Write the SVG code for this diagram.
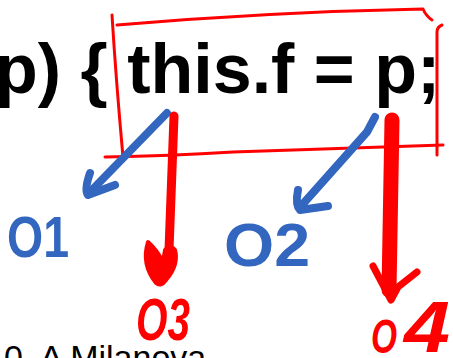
<svg xmlns="http://www.w3.org/2000/svg" width="453" height="358" viewBox="0 0 453 358">
<style>
.code{font-family:"Liberation Sans",Arial,sans-serif;font-weight:bold;font-size:70px;fill:#000}
.foot{font-family:"Liberation Sans",Arial,sans-serif;font-size:34px;fill:#000}
.box{fill:none;stroke:#ff0000;stroke-width:3;stroke-linecap:round;stroke-linejoin:round}
.blue{fill:none;stroke:#3366bf;stroke-width:8;stroke-linecap:round;stroke-linejoin:round}
.red{fill:none;stroke:#ff0000;stroke-linecap:round;stroke-linejoin:round}
.lb{font-family:"Liberation Sans",Arial,sans-serif;font-weight:bold;fill:#3366bf}
.lr{font-family:"Liberation Sans",Arial,sans-serif;font-weight:bold;font-style:italic;fill:#ff0000}
</style>
<rect width="453" height="358" fill="#fff"/>
<g id="code"><text class="code" x="-5" y="93">p) { this.f = p;</text></g>
<g id="footer"><text class="foot" x="4" y="369">0, A Milanova</text></g>
<g id="box">
<path class="box" d="M112,15 Q116,80 123,157"/>
<path class="box" d="M117,25 Q270,12 423,9 Q426,16 432,20"/>
<path class="box" d="M442,25 Q437,27 437,32 L437,155"/>
<path class="box" d="M105,157 Q170,156 233,152 Q340,148 443,145"/>
</g>
<g id="connectors">
<path class="blue" d="M167,113 L90,192"/>
<path class="blue" d="M90,173 Q84,190 88,195 L115,185"/>
<path class="blue" d="M375,117 L367,132 L302,205"/>
<path class="blue" d="M298,190 Q295,205 300,210 L328,206"/>
<path class="red" stroke-width="9" d="M174,116 L169,250"/>
<path fill="#ff0000" stroke="#ff0000" stroke-width="4" stroke-linejoin="round" d="M148,242 Q141,264 156,283 Q161,287 166,280 Q179,265 175,250 Q170,244 165,250 L163,262 Q157,250 148,242 Z"/>
<path class="red" stroke-width="15" d="M392,120 L389,290"/>
<path class="red" stroke-width="7" d="M373,266 L391,300 L398,287 L417,272"/>
</g>
<g id="o1"><text class="lb" x="7" y="257" font-size="58" textLength="62" lengthAdjust="spacingAndGlyphs">O1</text></g>
<g id="o2"><text class="lb" x="224" y="266" font-size="62" textLength="86" lengthAdjust="spacingAndGlyphs">O2</text></g>
<g id="o3"><text class="lr" x="136" y="340" font-size="60" textLength="54" lengthAdjust="spacingAndGlyphs">O3</text></g>
<g id="o4"><text class="lr" x="371" y="353" font-size="48" textLength="26" lengthAdjust="spacingAndGlyphs">O</text><text class="lr" x="404" y="352" font-size="72" textLength="46" lengthAdjust="spacingAndGlyphs">4</text></g>
</svg>
